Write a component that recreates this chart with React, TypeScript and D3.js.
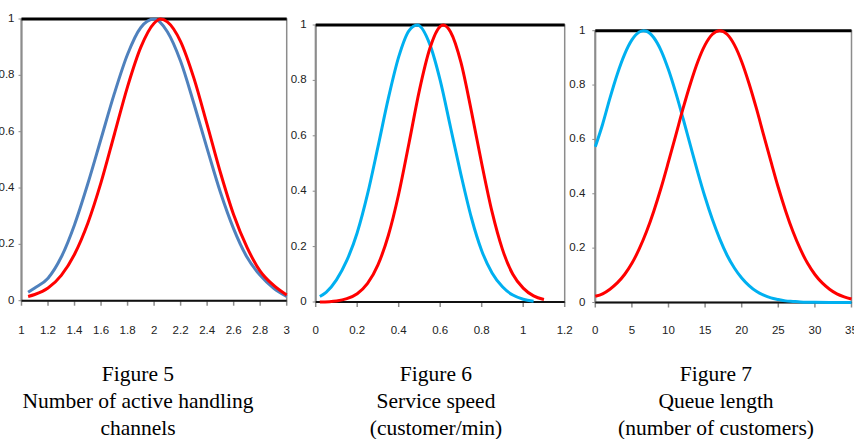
import * as d3 from "d3";

type Pt = [number, number];

// Figure 5: number of active handling channels
const fig5Ticks = [1, 1.2, 1.4, 1.6, 1.8, 2, 2.2, 2.4, 2.6, 2.8, 3];
const fig5Blue: Pt[] = [
  [1.05, 0.03], [1.1, 0.045], [1.2, 0.08], [1.3, 0.155], [1.4, 0.27],
  [1.5, 0.415], [1.6, 0.575], [1.7, 0.735], [1.8, 0.875], [1.9, 0.97],
  [2.0, 1.0], [2.1, 0.955], [2.2, 0.85], [2.3, 0.7], [2.4, 0.54],
  [2.5, 0.385], [2.6, 0.255], [2.7, 0.155], [2.8, 0.09], [2.9, 0.045],
  [3.0, 0.015],
];
const fig5Red: Pt[] = [
  [1.05, 0.015], [1.1, 0.022], [1.2, 0.045], [1.3, 0.09], [1.4, 0.165],
  [1.5, 0.275], [1.6, 0.42], [1.7, 0.59], [1.8, 0.76], [1.9, 0.9],
  [2.0, 0.985], [2.05, 1.0], [2.1, 0.99], [2.2, 0.92], [2.3, 0.79],
  [2.4, 0.625], [2.5, 0.455], [2.6, 0.305], [2.7, 0.19], [2.8, 0.105],
  [2.9, 0.055], [3.0, 0.02],
];

// Figure 6: service speed
const fig6Ticks = [0, 0.2, 0.4, 0.6, 0.8, 1, 1.2];
const fig6Blue: Pt[] = [
  [0.02, 0.02], [0.05, 0.035], [0.1, 0.08], [0.15, 0.15], [0.2, 0.25],
  [0.25, 0.39], [0.3, 0.56], [0.35, 0.735], [0.4, 0.885], [0.45, 0.98],
  [0.49, 1.0], [0.55, 0.93], [0.6, 0.8], [0.65, 0.63], [0.7, 0.46],
  [0.75, 0.305], [0.8, 0.185], [0.85, 0.105], [0.9, 0.055], [0.95, 0.025],
  [1.0, 0.01], [1.05, 0.003],
];
const fig6Red: Pt[] = [
  [0.02, 0], [0.1, 0.004], [0.15, 0.012], [0.2, 0.03], [0.25, 0.067],
  [0.3, 0.134], [0.35, 0.24], [0.4, 0.39], [0.45, 0.575], [0.5, 0.765],
  [0.55, 0.915], [0.6, 0.995], [0.615, 1.0], [0.65, 0.975], [0.7, 0.865],
  [0.75, 0.69], [0.8, 0.5], [0.85, 0.325], [0.9, 0.19], [0.95, 0.1],
  [1.0, 0.05], [1.05, 0.022], [1.1, 0.009],
];

// Figure 7: queue length
const fig7Ticks = [0, 5, 10, 15, 20, 25, 30, 35];
const fig7Blue: Pt[] = [
  [0, 0.573], [1, 0.656], [2, 0.752], [3, 0.84], [4, 0.913], [5, 0.966],
  [6, 0.995], [6.6, 1.0], [7, 0.998], [8, 0.974], [9, 0.926], [10, 0.856],
  [11, 0.771], [12, 0.676], [13, 0.577], [14, 0.479], [15, 0.387],
  [16, 0.305], [17, 0.234], [18, 0.174], [19, 0.127], [20, 0.09],
  [21, 0.062], [22, 0.041], [23, 0.027], [24, 0.017], [25, 0.011],
  [26, 0.006], [27, 0.004], [28, 0.002], [29, 0.001], [30, 0.0006],
  [32, 0.0001], [35, 0],
];
const fig7Red: Pt[] = [
  [0, 0.023], [1, 0.032], [2, 0.049], [3, 0.072], [4, 0.103], [5, 0.144],
  [6, 0.197], [7, 0.261], [8, 0.337], [9, 0.423], [10, 0.518], [11, 0.616],
  [12, 0.715], [13, 0.806], [14, 0.886], [15, 0.948], [16, 0.987], [17, 1.0],
  [18, 0.987], [19, 0.948], [20, 0.886], [21, 0.806], [22, 0.715],
  [23, 0.616], [24, 0.518], [25, 0.423], [26, 0.337], [27, 0.261],
  [28, 0.197], [29, 0.144], [30, 0.103], [31, 0.072], [32, 0.049],
  [33, 0.032], [34, 0.021], [35, 0.013],
];

const yTicks = [0, 0.2, 0.4, 0.6, 0.8, 1];

const captions = [
  ["Figure 5", "Number of active handling", "channels"],
  ["Figure 6", "Service speed", "(customer/min)"],
  ["Figure 7", "Queue length", "(number of customers)"],
];

const tickFont = "'Liberation Sans Narrow', 'Arial Narrow', sans-serif";

function Panel({
  left,
  right,
  top,
  bottom,
  ticks,
  blue,
  red,
  blueColor,
  labelGap,
}: {
  left: number;
  right: number;
  top: number;
  bottom: number;
  ticks: number[];
  blue: Pt[];
  red: Pt[];
  blueColor: string;
  labelGap: number;
}) {
  const x = d3
    .scaleLinear()
    .domain([ticks[0], ticks[ticks.length - 1]])
    .range([left, right]);
  const y = d3.scaleLinear().domain([0, 1]).range([bottom, top]);
  const line = d3
    .line<Pt>()
    .x((d) => x(d[0]))
    .y((d) => y(d[1]))
    .curve(d3.curveMonotoneX);

  return (
    <g>
      <rect
        x={left}
        y={top}
        width={right - left}
        height={bottom - top}
        fill="none"
        stroke="#8c8c8c"
        strokeWidth={1.5}
      />
      <line x1={left} x2={left} y1={top} y2={bottom} stroke="#8c8c8c" strokeWidth={2} />
      {ticks.map((t) => (
        <g key={t}>
          <line
            x1={x(t)}
            x2={x(t)}
            y1={bottom}
            y2={bottom + 5}
            stroke="#8c8c8c"
            strokeWidth={1.5}
          />
          <text
            x={x(t)}
            y={331}
            textAnchor="middle"
            dominantBaseline="middle"
            fontFamily={tickFont}
            fontSize={11.5}
            fill="#222"
          >
            {String(t)}
          </text>
        </g>
      ))}
      {yTicks.map((t) => (
        <g key={t}>
          <line
            x1={left - 3}
            x2={left}
            y1={y(t)}
            y2={y(t)}
            stroke="#8c8c8c"
            strokeWidth={1}
          />
          <text
            x={left - labelGap}
            y={y(t)}
            textAnchor="end"
            dominantBaseline="middle"
            fontFamily={tickFont}
            fontSize={11.5}
            fill="#222"
          >
            {String(t)}
          </text>
        </g>
      ))}
      <line x1={left} x2={right} y1={bottom} y2={bottom} stroke="#111" strokeWidth={2} />
      <line x1={left} x2={right} y1={top} y2={top} stroke="#000" strokeWidth={3} />
      <path d={line(blue) ?? ""} fill="none" stroke={blueColor} strokeWidth={3} />
      <path d={line(red) ?? ""} fill="none" stroke="#ff0000" strokeWidth={3} />
    </g>
  );
}

export default function App() {
  const captionX = [138, 436, 716];
  return (
    <svg
      width={854}
      height={439}
      style={{ position: "absolute", left: 0, top: 0, background: "#fff" }}
    >
      <rect width={854} height={439} fill="#fff" />
      <Panel
        left={21.5}
        right={286.7}
        top={19}
        bottom={300.7}
        ticks={fig5Ticks}
        blue={fig5Blue}
        red={fig5Red}
        blueColor="#4f81bd"
        labelGap={7}
      />
      <Panel
        left={315.7}
        right={564.7}
        top={25}
        bottom={302}
        ticks={fig6Ticks}
        blue={fig6Blue}
        red={fig6Red}
        blueColor="#00b0f0"
        labelGap={9}
      />
      <Panel
        left={595.3}
        right={851.5}
        top={30.7}
        bottom={302.5}
        ticks={fig7Ticks}
        blue={fig7Blue}
        red={fig7Red}
        blueColor="#00b0f0"
        labelGap={10}
      />
      {captions.map((lines, i) => (
        <g key={i}>
          {lines.map((s, j) => (
            <text
              key={j}
              x={captionX[i]}
              y={381 + j * 27}
              textAnchor="middle"
              fontFamily="'Liberation Serif', 'Times New Roman', serif"
              fontSize={21.5}
              fill="#000"
            >
              {s}
            </text>
          ))}
        </g>
      ))}
    </svg>
  );
}
